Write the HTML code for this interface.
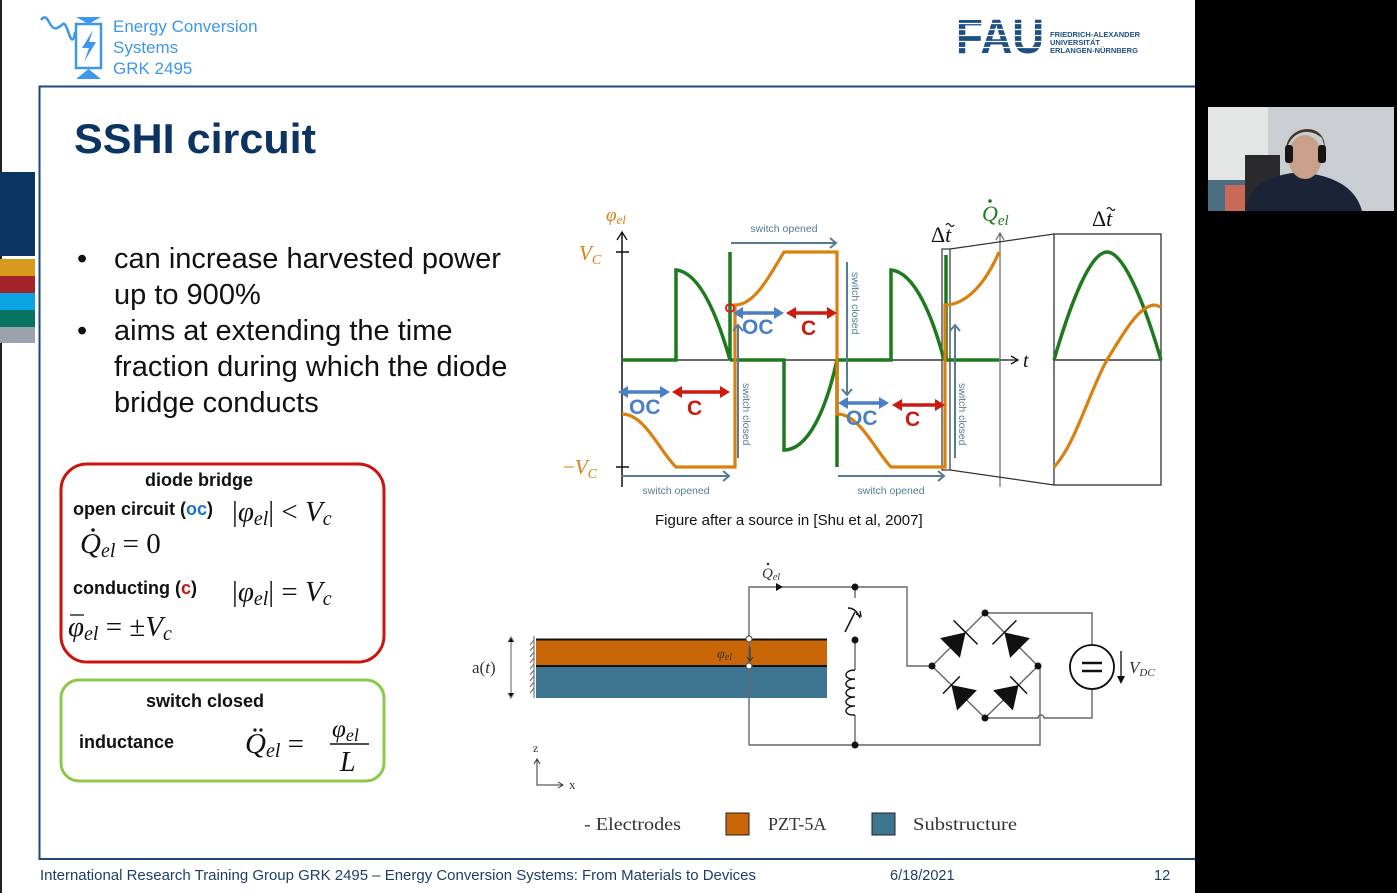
<!DOCTYPE html>
<html><head><meta charset="utf-8"><style>
html,body{margin:0;padding:0;background:#000;}
svg{display:block}
.s{font-family:"Liberation Sans",sans-serif}
.m{font-family:"Liberation Serif",serif;font-style:italic}
.r{font-family:"Liberation Serif",serif;font-style:normal}
</style></head><body>
<svg width="1397" height="893" viewBox="0 0 1397 893" xmlns="http://www.w3.org/2000/svg">
<rect x="0" y="0" width="1195" height="893" fill="#fff"/>
<rect x="0" y="0" width="2" height="893" fill="#222"/>
<rect x="0" y="172" width="35" height="84" fill="#0b3463"/>
<rect x="0" y="259" width="35" height="17" fill="#d59a1e"/>
<rect x="0" y="276" width="35" height="17" fill="#a3232a"/>
<rect x="0" y="293" width="35" height="17" fill="#0aa3e3"/>
<rect x="0" y="310" width="35" height="17" fill="#087262"/>
<rect x="0" y="327" width="35" height="16" fill="#9aa3aa"/>
<path d="M39.5,860 V86.5 H1195" fill="none" stroke="#1d4a78" stroke-width="2"/>
<line x1="39" y1="859" x2="1195" y2="859" stroke="#1d4a78" stroke-width="2"/>
<g stroke="#3d97ea" fill="none" stroke-width="2.5">
<path d="M41,20 q4,-6 8,2 t8,6 t6,-4 t6,10 t6,-2"/>
<rect x="76" y="24" width="25" height="44"/>
</g>
<polygon points="76,17 101,17 88.5,24" fill="#3d97ea"/>
<polygon points="76,79 101,79 88.5,69" fill="#3d97ea"/>
<polygon points="93,30 82,48 89,48 84,62 96,42 89,42" fill="#3d97ea"/>
<g class="s" fill="#3d97ea" font-size="17">
<text x="113" y="32">Energy Conversion</text>
<text x="113" y="53">Systems</text>
<text x="113" y="74">GRK 2495</text>
</g>
<text x="956" y="53" class="s" font-size="48" font-weight="bold" fill="#1d4f86" textLength="88" lengthAdjust="spacingAndGlyphs">FAU</text>
<g stroke="#fff" stroke-width="1.3"><line x1="955" y1="23.5" x2="1046" y2="23.5"/><line x1="955" y1="29.5" x2="1046" y2="29.5"/><line x1="955" y1="35.5" x2="1046" y2="35.5"/><line x1="955" y1="41.5" x2="1046" y2="41.5"/><line x1="955" y1="47.5" x2="1046" y2="47.5"/></g>
<g class="s" font-size="7.5" font-weight="bold" fill="#1d4f86">
<text x="1050" y="37">FRIEDRICH-ALEXANDER</text>
<text x="1050" y="45">UNIVERSITÄT</text>
<text x="1050" y="53">ERLANGEN-NÜRNBERG</text>
</g>
<text x="74" y="153" class="s" font-size="42" font-weight="bold" fill="#0b3463" textLength="242" lengthAdjust="spacingAndGlyphs">SSHI circuit</text>
<g class="s" font-size="29" fill="#111">
<text x="77" y="268">•</text><text x="114" y="268">can increase harvested power</text>
<text x="114" y="304">up to 900%</text>
<text x="77" y="340">•</text><text x="114" y="340">aims at extending the time</text>
<text x="114" y="376">fraction during which the diode</text>
<text x="114" y="412">bridge conducts</text>
</g>
<rect x="61" y="464" width="323" height="198" rx="26" fill="none" stroke="#c8160f" stroke-width="3"/>
<rect x="61" y="680" width="323" height="101" rx="18" fill="none" stroke="#8cc84b" stroke-width="3"/>
<g class="s" font-size="18" font-weight="bold" fill="#111">
<text x="145" y="486">diode bridge</text>
<text x="73" y="515">open circuit (<tspan fill="#1a73c8">oc</tspan>)</text>
<text x="73" y="594">conducting (<tspan fill="#c8160f">c</tspan>)</text>
<text x="146" y="707">switch closed</text>
<text x="79" y="748">inductance</text>
</g>
<g class="m" font-size="29" fill="#111">
<text x="232" y="521"><tspan class="r">|</tspan>φ<tspan font-size="20" dy="4">el</tspan><tspan class="r" dy="-4">| &lt; </tspan>V<tspan font-size="20" dy="4">c</tspan></text>
<text x="80" y="553">Q<tspan font-size="20" dy="4">el</tspan><tspan class="r" dy="-4"> = 0</tspan></text>
<text x="232" y="601"><tspan class="r">|</tspan>φ<tspan font-size="20" dy="4">el</tspan><tspan class="r" dy="-4">| = </tspan>V<tspan font-size="20" dy="4">c</tspan></text>
<text x="68" y="636">φ<tspan font-size="20" dy="4">el</tspan><tspan class="r" dy="-4"> = ±</tspan>V<tspan font-size="20" dy="4">c</tspan></text>
<text x="245" y="753">Q<tspan font-size="20" dy="4">el</tspan><tspan class="r" dy="-4"> = </tspan></text>
<text x="332" y="737" font-size="25">φ<tspan font-size="18" dy="4">el</tspan></text>
<text x="340" y="771" font-size="28">L</text>
</g>
<circle cx="93" cy="530" r="1.8" fill="#111"/>
<line x1="70" y1="615" x2="84" y2="615" stroke="#111" stroke-width="1.3"/>
<circle cx="255" cy="730" r="1.6" fill="#111"/><circle cx="261" cy="730" r="1.6" fill="#111"/>
<line x1="330" y1="744" x2="369" y2="744" stroke="#111" stroke-width="1.5"/>

<g fill="none">
<line x1="622" y1="487" x2="622" y2="233" stroke="#111" stroke-width="1.5"/>
<path d="M617,240 L622,232 L627,240" stroke="#111" stroke-width="1.3"/>
<line x1="622" y1="360" x2="1017" y2="360" stroke="#111" stroke-width="1.3"/>
<path d="M1011,356 L1018,360 L1011,364" stroke="#111" stroke-width="1.3"/>
<line x1="616" y1="252" x2="629" y2="252" stroke="#111" stroke-width="1.5"/>
<line x1="616" y1="467" x2="629" y2="467" stroke="#111" stroke-width="1.5"/>
<line x1="1000" y1="233" x2="1000" y2="487" stroke="#666" stroke-width="1.2"/>
<path d="M996,240 L1000,233 L1004,240" stroke="#666" stroke-width="1.2"/>
<rect x="942" y="249" width="8" height="221" stroke="#333" stroke-width="1.2"/>
<line x1="950" y1="249" x2="1054" y2="234" stroke="#333" stroke-width="1.2"/>
<line x1="950" y1="470" x2="1054" y2="485" stroke="#333" stroke-width="1.2"/>
<rect x="1054" y="234" width="107" height="251" stroke="#333" stroke-width="1.3"/>
<line x1="1054" y1="360" x2="1161" y2="360" stroke="#111" stroke-width="1.2"/>
<path d="M622,360 H676 V270 C700,272 718,318 730,360 M730,360 V252 M730,360 H784 V450 C808,450 826,410 837,360 M837,360 V467 M837,360 H891 V270 C915,272 933,318 944,360 M946,360 V255 M944,360 H999" stroke="#1d7a1d" stroke-width="3.5"/>
<path d="M1054,360 C1070,305 1090,252 1107,252 C1124,252 1145,305 1161,360" stroke="#1d7a1d" stroke-width="3.5"/>
<path d="M622,414 C645,414 660,452 676,467 H735 V305 C755,305 770,275 784,252 H837 V414 C860,414 876,452 891,467 H945 V305 C965,305 985,285 999,252" stroke="#d9800f" stroke-width="3.2"/>
<path d="M1054,467 C1075,445 1090,390 1107,360 C1125,330 1140,305 1155,305 L1161,307" stroke="#d9800f" stroke-width="3.2"/>
<g stroke="#557b95" stroke-width="2">
<line x1="621" y1="476" x2="728" y2="476"/><path d="M723,471 L729,476 L723,481"/>
<line x1="731" y1="243" x2="835" y2="243"/><path d="M830,238 L836,243 L830,248"/>
<line x1="838" y1="476" x2="943" y2="476"/><path d="M938,471 L944,476 L938,481"/>
<line x1="738" y1="458" x2="738" y2="326"/><path d="M733,331 L738,325 L743,331"/>
<line x1="847" y1="262" x2="847" y2="394"/><path d="M842,389 L847,395 L852,389"/>
<line x1="955" y1="458" x2="955" y2="326"/><path d="M950,331 L955,325 L960,331"/>
</g>
<g stroke-width="3.5">
<line x1="622" y1="392" x2="667" y2="392" stroke="#4a7fc4"/><polygon points="618,392 628,386 628,398" fill="#4a7fc4" stroke="none"/><polygon points="670,392 660,386 660,398" fill="#4a7fc4" stroke="none"/>
<line x1="676" y1="392" x2="726" y2="392" stroke="#cc1a10"/><polygon points="672,392 682,386 682,398" fill="#cc1a10" stroke="none"/><polygon points="730,392 720,386 720,398" fill="#cc1a10" stroke="none"/>
<line x1="737" y1="313" x2="780" y2="313" stroke="#4a7fc4"/><polygon points="733,313 743,307 743,319" fill="#4a7fc4" stroke="none"/><polygon points="784,313 774,307 774,319" fill="#4a7fc4" stroke="none"/>
<line x1="790" y1="313" x2="832" y2="313" stroke="#cc1a10"/><polygon points="786,313 796,307 796,319" fill="#cc1a10" stroke="none"/><polygon points="837,313 827,307 827,319" fill="#cc1a10" stroke="none"/>
<line x1="842" y1="403" x2="885" y2="403" stroke="#4a7fc4"/><polygon points="838,403 848,397 848,409" fill="#4a7fc4" stroke="none"/><polygon points="889,403 879,397 879,409" fill="#4a7fc4" stroke="none"/>
<line x1="896" y1="405" x2="941" y2="405" stroke="#cc1a10"/><polygon points="892,405 902,399 902,411" fill="#cc1a10" stroke="none"/><polygon points="945,405 935,399 935,411" fill="#cc1a10" stroke="none"/>
</g>
<circle cx="730" cy="308" r="4" stroke="#e02020" stroke-width="2"/>
</g>
<g class="s" font-weight="bold" font-size="21">
<text x="629" y="414" fill="#4a7fc4">OC</text><text x="687" y="415" fill="#cc1a10">C</text>
<text x="742" y="334" fill="#4a7fc4">OC</text><text x="801" y="335" fill="#cc1a10">C</text>
<text x="846" y="425" fill="#4a7fc4">OC</text><text x="905" y="426" fill="#cc1a10">C</text>
</g>
<g class="s" font-size="10.5" fill="#557b95">
<text x="676" y="494" text-anchor="middle">switch opened</text>
<text x="784" y="232" text-anchor="middle">switch opened</text>
<text x="891" y="494" text-anchor="middle">switch opened</text>
<text transform="translate(743,383) rotate(90)">switch closed</text>
<text transform="translate(852,272) rotate(90)">switch closed</text>
<text transform="translate(959,383) rotate(90)">switch closed</text>
</g>
<g class="m" fill="#d9800f">
<text x="606" y="221" font-size="19">φ<tspan font-size="13" dy="3">el</tspan></text>
<text x="579" y="260" font-size="21">V<tspan font-size="14" dy="4">C</tspan></text>
<text x="563" y="474" font-size="21"><tspan class="r">−</tspan>V<tspan font-size="14" dy="4">C</tspan></text>
</g>
<g class="m" fill="#111">
<text x="1023" y="367" font-size="20">t</text>
<text x="931" y="242" font-size="22"><tspan class="r">Δ</tspan>t</text>
<text x="1092" y="226" font-size="22"><tspan class="r">Δ</tspan>t</text>
</g>
<path d="M946,225 q2,-3 4,0 t4,0" fill="none" stroke="#111" stroke-width="1.2"/>
<path d="M1107,209 q2,-3 4,0 t4,0" fill="none" stroke="#111" stroke-width="1.2"/>
<text x="982" y="221" class="m" font-size="22" fill="#1d7a1d">Q<tspan font-size="15" dy="4">el</tspan></text>
<circle cx="990" cy="201" r="1.8" fill="#1d7a1d"/>
<text x="655" y="525" class="s" font-size="15" fill="#111">Figure after a source in [Shu et al, 2007]</text>

<g stroke="#777" stroke-width="1.2">
<line x1="534" y1="636" x2="534" y2="698"/>
<path d="M534,640 l-4,5 M534,646 l-4,5 M534,652 l-4,5 M534,658 l-4,5 M534,664 l-4,5 M534,670 l-4,5 M534,676 l-4,5 M534,682 l-4,5 M534,688 l-4,5"/>
<line x1="511" y1="638" x2="511" y2="697"/>
<path d="M508,642 L511,637 L514,642 M508,693 L511,698 L514,693"/>
</g>
<rect x="536" y="640" width="291" height="26" fill="#c96608"/>
<rect x="536" y="667" width="291" height="31" fill="#3d7590"/>
<line x1="536" y1="639.5" x2="827" y2="639.5" stroke="#111" stroke-width="2"/>
<line x1="536" y1="666" x2="827" y2="666" stroke="#111" stroke-width="2"/>
<g fill="none" stroke="#666" stroke-width="1.4">
<path d="M749,745 V587 H907 V666 H932"/>
<path d="M749,745 H1040 V666"/>
<path d="M855,587 V598"/>
<path d="M855,640 V670"/>
<path d="M855,715 V745"/>
<path d="M985,613 H1092 V646 M1092,688 V718 H1044 a3,3 0 0 0 -6,0 H985"/>
<path d="M932,666 L985,613 L1038,666 L985,718 Z"/>
</g>
<path d="M855,612 L845,632 M848,608 q8,0 12,10" fill="none" stroke="#111" stroke-width="1.5"/>
<path d="M856,614 l5,2 l-1,-5" fill="none" stroke="#111" stroke-width="1.3"/>
<path d="M855,670 c-12,0 -12,10 0,9 c-12,0 -12,10 0,9 c-12,0 -12,10 0,9 c-12,0 -12,10 0,9 c-12,0 -12,10 0,9" fill="none" stroke="#111" stroke-width="1.4"/>
<g fill="#111">
<circle cx="855" cy="587" r="3.5"/><circle cx="855" cy="640" r="3.5"/><circle cx="855" cy="745" r="3.5"/>
<circle cx="985" cy="613" r="3.5"/><circle cx="932" cy="666" r="3.5"/><circle cx="1038" cy="666" r="3.5"/><circle cx="985" cy="718" r="3.5"/>
<polygon points="776,583 776,591 783,587"/>
<polygon points="965.6,632.4 959.9,657.9 940.1,638.1"/>
<polygon points="1004.4,632.4 1029.9,638.1 1010.1,657.9"/>
<polygon points="951.4,685 976.9,690.3 957.1,710.5"/>
<polygon points="1018.6,685 1012.9,710.5 993.1,690.3"/>
</g>
<g stroke="#111" stroke-width="1.5">
<line x1="953.6" y1="620.4" x2="977.6" y2="644.4"/>
<line x1="992.4" y1="644.4" x2="1016.4" y2="620.4"/>
<line x1="959.8" y1="676.4" x2="943" y2="693.6"/>
<line x1="1027" y1="693.6" x2="1010.2" y2="676.4"/>
</g>
<circle cx="749" cy="639" r="3" fill="#fff" stroke="#555" stroke-width="1.2"/>
<circle cx="749" cy="666" r="3" fill="#fff" stroke="#555" stroke-width="1.2"/>
<ellipse cx="1092" cy="667" rx="22" ry="22" fill="#fff" stroke="#111" stroke-width="1.8"/>
<line x1="1082" y1="663" x2="1102" y2="663" stroke="#111" stroke-width="2.5"/>
<line x1="1082" y1="671" x2="1102" y2="671" stroke="#111" stroke-width="2.5"/>
<line x1="1121" y1="651" x2="1121" y2="678" stroke="#111" stroke-width="1.3"/>
<polygon points="1117,676 1125,676 1121,684" fill="#111"/>
<line x1="750" y1="647" x2="750" y2="660" stroke="#333" stroke-width="1"/>
<path d="M747,657 L750,661 L753,657" fill="none" stroke="#333" stroke-width="1"/>
<g class="m" fill="#333">
<text x="717" y="658" font-size="14">φ<tspan font-size="10" dy="2">el</tspan></text>
<text x="762" y="578" font-size="15">Q<tspan font-size="10" dy="2">el</tspan></text>
<text x="472" y="673" font-size="17"><tspan class="r">a(</tspan>t<tspan class="r">)</tspan></text>
<text x="1129" y="673" font-size="17">V<tspan font-size="11" dy="3">DC</tspan></text>
</g>
<circle cx="768" cy="564" r="1.3" fill="#333"/>
<g stroke="#333" stroke-width="1" fill="none">
<path d="M537,760 V785 H562"/>
<path d="M534,764 L537,759 L540,764 M558,782 L563,785 L558,788"/>
</g>
<g class="r" fill="#333">
<text x="533" y="752" font-size="12">z</text>
<text x="569" y="789" font-size="13">x</text>
<text x="584" y="830" font-size="18" textLength="97" lengthAdjust="spacingAndGlyphs">- Electrodes</text>
<text x="768" y="830" font-size="18">PZT-5A</text>
<text x="913" y="830" font-size="18" textLength="104" lengthAdjust="spacingAndGlyphs">Substructure</text>
</g>
<rect x="726" y="813" width="23" height="22" fill="#c96608" stroke="#222" stroke-width="1"/>
<rect x="872" y="813" width="23" height="22" fill="#3d7590" stroke="#222" stroke-width="1"/>

<g class="s" font-size="14.5" fill="#1d3e66">
<text x="40" y="880" textLength="716" lengthAdjust="spacingAndGlyphs">International Research Training Group GRK 2495 –  Energy Conversion Systems: From Materials to Devices</text>
<text x="890" y="880">6/18/2021</text>
<text x="1154" y="880">12</text>
</g>

<rect x="1208" y="107" width="186" height="104" fill="#c9ced2"/>
<rect x="1208" y="107" width="60" height="104" fill="#e4e6e6"/>
<rect x="1208" y="180" width="40" height="31" fill="#4a6d80"/>
<rect x="1225" y="185" width="20" height="26" fill="#c86a55"/>
<rect x="1245" y="155" width="35" height="56" fill="#2a2a2c"/>
<path d="M1245,211 C1250,180 1275,175 1300,172 C1330,175 1355,185 1362,211 Z" fill="#1b2436"/>
<ellipse cx="1305" cy="157" rx="17" ry="22" fill="#c9a18a"/>
<path d="M1286,150 C1286,125 1325,120 1325,148 L1322,138 C1310,128 1295,130 1288,145 Z" fill="#4a3626"/>
<rect x="1285" y="145" width="8" height="18" rx="3" fill="#151515"/>
<rect x="1318" y="145" width="8" height="18" rx="3" fill="#151515"/>
</svg>
</body></html>
